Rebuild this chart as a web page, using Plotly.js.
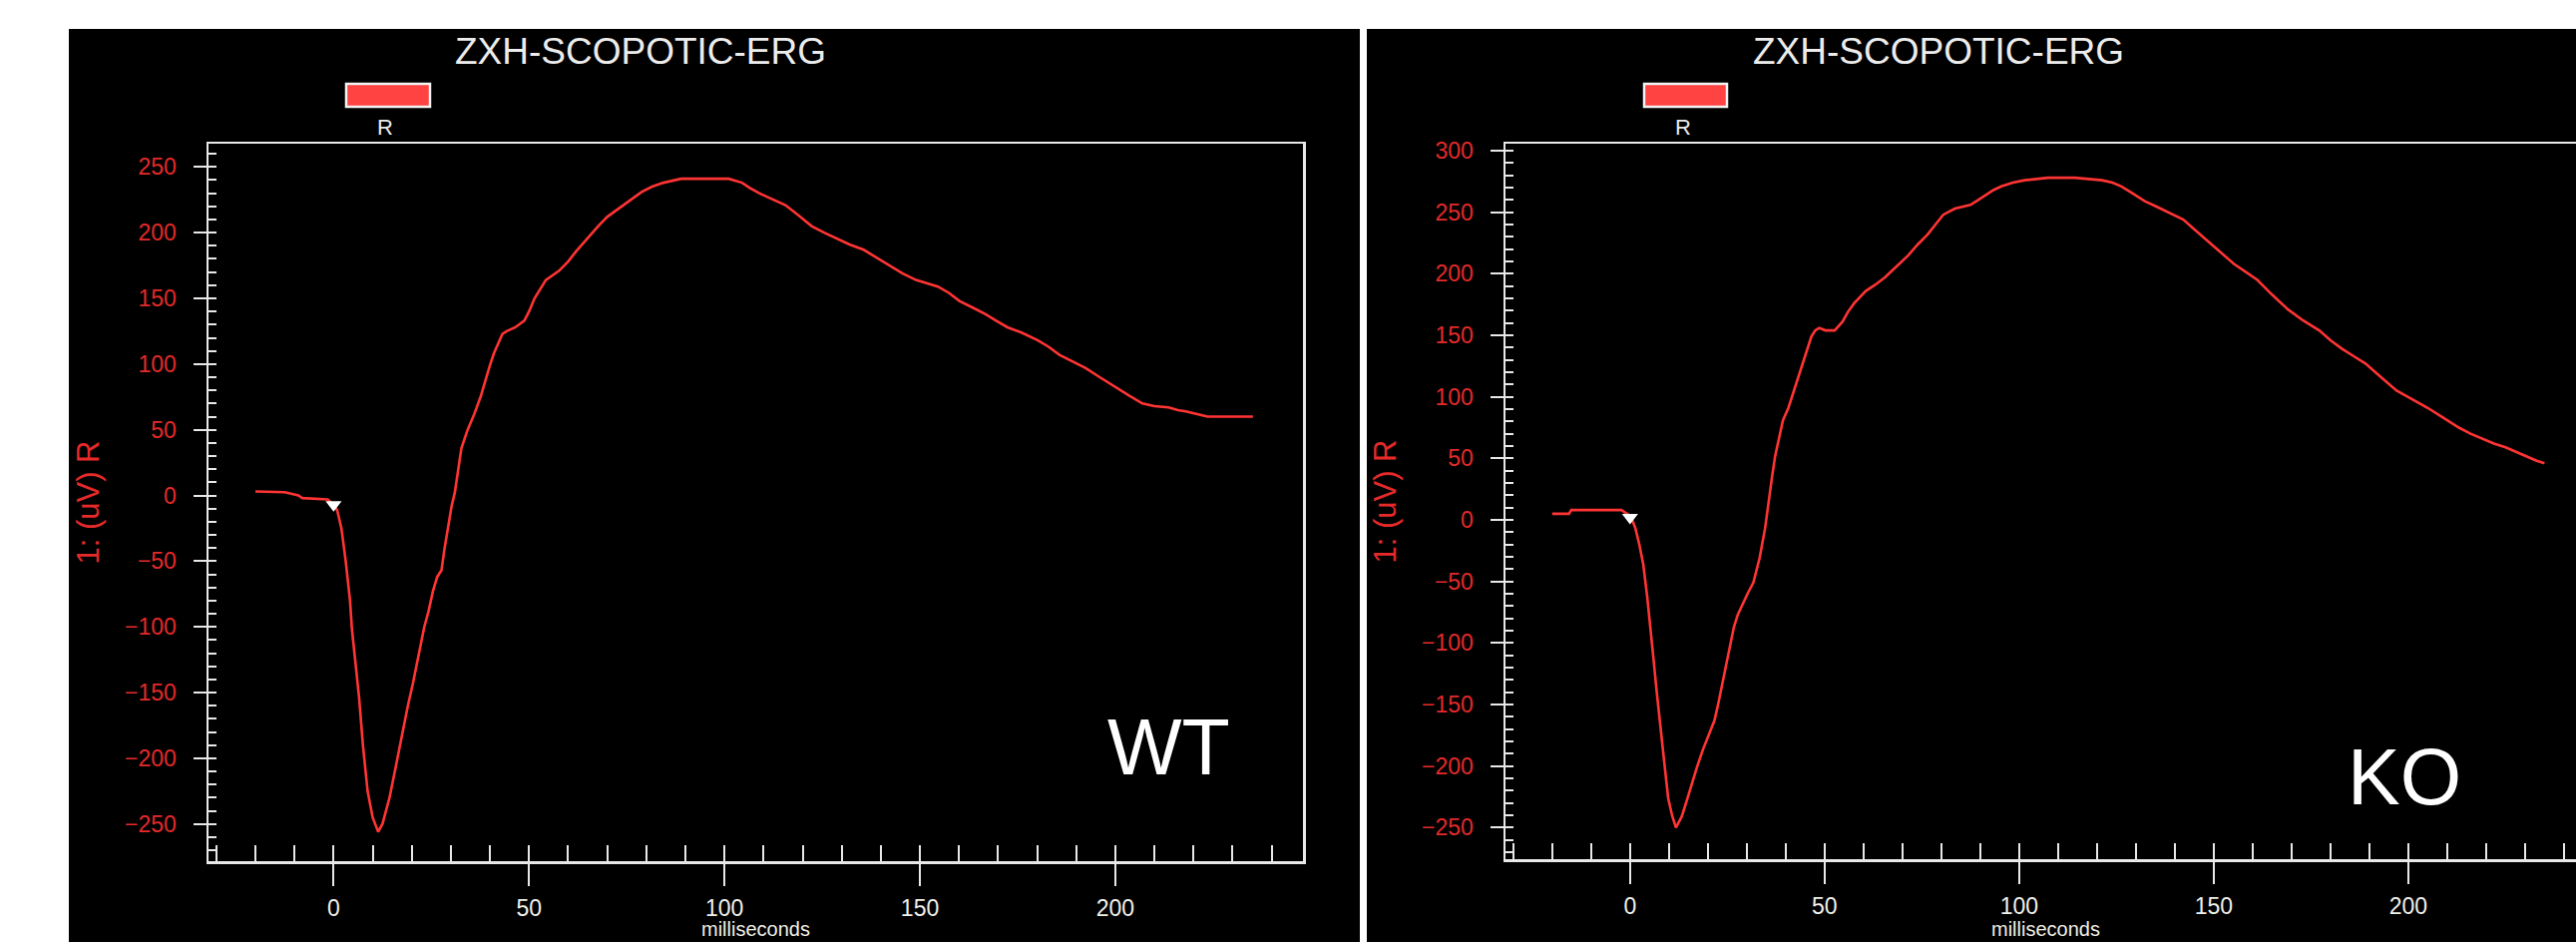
<!DOCTYPE html>
<html>
<head>
<meta charset="utf-8">
<script src="https://cdn.plot.ly/plotly-3.0.1.min.js"></script>
<style>
html,body{margin:0;padding:0;background:#ffffff;}
#chart{width:2582px;height:944px;}
</style>
</head>
<body>
<div id="chart"></div>
<script>
// ---------------- data ----------------
const wtTime = [-20,-12.5,-9,-8,-1.5,0,0.9,2,3.1,4.2,4.7,5.5,6.5,7.5,8.7,10,11.4,12.5,14.3,16,17.6,19,20.3,21.8,23.2,24.3,25.4,26.5,27.6,28.4,29.2,30.2,31,31.8,32.7,34.3,36,37.6,38.8,39.9,41,42.1,43.2,44.3,46.5,48.8,50,51.4,53,54.3,57.7,60,62.1,65,67.7,70,73.3,76,78.8,81.5,84.4,88.9,95,101.1,104.5,106.5,108.9,112,115.6,119,122.3,125.5,129,132,135.6,139,142.3,145.5,149,152,154.6,157.5,160.1,163.5,166.8,169.5,172.4,176,180.2,183,185.7,189,192.4,196,200.2,203.5,206.9,210,213.6,216,218,221,223.6,230,235.2];
const wtAmp  = [3,2.5,0,-2,-3,-7,-11,-25,-50,-80,-102,-125,-153,-190,-225,-245,-256,-250,-230,-205,-180,-160,-143,-120,-100,-88,-73,-62,-57,-40,-25,-8,2,18,36,50,62,75,88,98,108,116,123,125,128,133,140,150,158,164,171,178,186,196,205,212,219,225,231,235,238,241,241,241,238,234,230,226,221,213,205,200,195,191,187,181,175,169,164,161,159,154,148,143,138,133,128,124,118,113,107,102,97,90,82,76,70,68,67,65,64,62,60,60,60];

const koTime = [-20,-15.7,-15.1,-2.2,0.2,1.4,2.4,3.4,4.4,5.4,6.1,6.8,7.8,8.8,9.8,10.8,11.8,13.3,14.5,15.7,17.2,18.7,20.2,21.7,22.7,23.7,24.5,25.3,26.7,27.7,28.7,30.2,31.7,32.5,33.3,34.7,35.7,36.5,37.3,38.3,39.3,40.7,41.6,42.6,43.6,44.6,45.6,46.6,47.6,48.6,50.2,52.6,54.6,56,57.6,59,60.6,63,65.5,68.5,71.5,74,76.5,78.5,80.5,83.5,87.5,89.5,91.4,93.4,95.4,98.4,101.4,107.4,114.3,118,121.3,124,126.3,129.3,132.3,135,138.2,140,142.2,144.7,147.2,151,155.2,158,161.2,165,169.1,173,177.1,180,183,186,189,193,197,201,205,209,213,216,219,222,225,228,231,233,235];
const koAmp  = [5,5,8,8,3,-7,-20,-36,-62,-90,-115,-138,-170,-197,-226,-240,-250,-241,-229,-216,-201,-187,-175,-163,-149,-134,-121,-109,-87,-77,-70,-60,-51,-42,-31,-7,18,35,52,68,81,91,100,110,120,130,140,149,154,156,154,154,161,169,176,181,186,191,197,206,215,224,232,240,248,253,256,260,264,268,271,274,276,278,278,277,276,274,271,265,259,255,250,247,244,237,230,219,208,202,195,183,171,162,154,146,139,133,127,116,105,98,91,83,75,70,66,62,59,55,51,48,46];

// stimulus (flash) markers
const wtFlashTime = [0];
const wtFlashAmp  = [-7];
const koFlashTime = [0];
const koFlashAmp  = [2];

// texts
const chartTitle  = 'ZXH-SCOPOTIC-ERG';
const seriesName  = 'R';
const xTitle      = 'milliseconds';
const yTitle      = '1: (uV) R';
const panelLabels = ['WT', 'KO'];

// ---------------- layout helpers ----------------
const W = 2582, H = 944;
const fx = v => v / W;
const fy = v => 1 - v / H;

const FONT = 'Liberation Sans, Arial, sans-serif';
const RED_TEXT = '#e42a2a';
const LINE_RED = '#ff3434';
const AXIS_WHITE = '#e8e8e8';

function xAxis(domain, range, anchor) {
  return {
    domain: domain, range: range, anchor: anchor,
    showgrid: false, zeroline: false,
    showline: true, linecolor: AXIS_WHITE, linewidth: 2.5, mirror: true,
    ticks: 'outside', ticklen: 22, tickwidth: 2, tickcolor: AXIS_WHITE,
    tickmode: 'linear', tick0: 0, dtick: 50,
    minor: {ticks: 'inside', ticklen: 16, tickwidth: 2, tickcolor: AXIS_WHITE, tickmode: 'linear', tick0: 0, dtick: 10, showgrid: false},
    tickfont: {family: FONT, size: 23, color: '#f0f0ea'},
    ticklabelstandoff: 3,
    fixedrange: true
  };
}
function yAxis(domain, range, anchor, mirror) {
  return {
    domain: domain, range: range, anchor: anchor,
    showgrid: false, zeroline: false,
    showline: true, linecolor: AXIS_WHITE, linewidth: 2.5, mirror: mirror,
    ticks: 'outside', ticklen: 13, tickwidth: 2, tickcolor: AXIS_WHITE,
    tickmode: 'linear', tick0: 0, dtick: 50,
    minor: {ticks: 'inside', ticklen: 8, tickwidth: 2, tickcolor: AXIS_WHITE, tickmode: 'linear', tick0: 0, dtick: 10, showgrid: false},
    tickfont: {family: FONT, size: 23, color: RED_TEXT},
    ticklabelstandoff: 12,
    title: {text: yTitle, font: {family: FONT, size: 31, color: RED_TEXT}, standoff: 16},
    fixedrange: true
  };
}

const traces = [
  {x: wtTime, y: wtAmp, xaxis: 'x', yaxis: 'y', type: 'scatter', mode: 'lines', name: seriesName,
   line: {color: LINE_RED, width: 2.6}, showlegend: false, hoverinfo: 'skip'},
  {x: wtFlashTime, y: wtFlashAmp, xaxis: 'x', yaxis: 'y', type: 'scatter', mode: 'markers',
   marker: {symbol: 'triangle-down', size: 14, color: '#ffffff'}, showlegend: false, hoverinfo: 'skip'},
  {x: koTime, y: koAmp, xaxis: 'x2', yaxis: 'y2', type: 'scatter', mode: 'lines', name: seriesName,
   line: {color: LINE_RED, width: 2.6}, showlegend: false, hoverinfo: 'skip'},
  {x: koFlashTime, y: koFlashAmp, xaxis: 'x2', yaxis: 'y2', type: 'scatter', mode: 'markers',
   marker: {symbol: 'triangle-down', size: 14, color: '#ffffff'}, showlegend: false, hoverinfo: 'skip'}
];

// panel geometry in pixels
const leftPlot  = {x0: 209,  x1: 1306, y0: 144, y1: 863};
const rightPlot = {x0: 1509, x1: 2582, y0: 144, y1: 861};

const layout = {
  width: W, height: H,
  margin: {l: 0, r: 0, t: 0, b: 0, pad: 0},
  paper_bgcolor: '#ffffff',
  plot_bgcolor: '#000000',
  showlegend: false,
  font: {family: FONT},
  title: {
    text: chartTitle, x: fx(642), xanchor: 'center', y: fy(51), yanchor: 'middle',
    font: {family: FONT, size: 37, color: '#ececec'}
  },
  xaxis:  xAxis([fx(leftPlot.x0), fx(leftPlot.x1)], [-32, 248], 'y'),
  yaxis:  yAxis([fy(leftPlot.y1), fy(leftPlot.y0)], [-278.3, 267.7], 'x', true),
  xaxis2: xAxis([fx(rightPlot.x0), 1], [-32, 243.1], 'y2'),
  yaxis2: yAxis([fy(rightPlot.y1), fy(rightPlot.y0)], [-275.7, 305.7], 'x2', false),
  shapes: [
    // black screenshot backgrounds
    {type: 'rect', xref: 'paper', yref: 'paper', x0: fx(69), x1: fx(1363), y0: -0.01, y1: fy(29),
     fillcolor: '#000000', line: {width: 0}, layer: 'below'},
    {type: 'rect', xref: 'paper', yref: 'paper', x0: fx(1370), x1: 1.01, y0: -0.01, y1: fy(29),
     fillcolor: '#000000', line: {width: 0}, layer: 'below'},
    // legend swatches
    {type: 'rect', xref: 'paper', yref: 'paper', x0: fx(347), x1: fx(431), y0: fy(107), y1: fy(84),
     fillcolor: '#ff4242', line: {color: '#f4f4f4', width: 2.5}},
    {type: 'rect', xref: 'paper', yref: 'paper', x0: fx(1648), x1: fx(1731), y0: fy(107), y1: fy(84),
     fillcolor: '#ff4242', line: {color: '#f4f4f4', width: 2.5}}
  ],
  annotations: [
    {text: chartTitle, xref: 'paper', yref: 'paper', x: fx(1943), y: fy(51), xanchor: 'center', yanchor: 'middle',
     showarrow: false, font: {family: FONT, size: 37, color: '#ececec'}},
    {text: seriesName, xref: 'paper', yref: 'paper', x: fx(386), y: fy(127), xanchor: 'center', yanchor: 'middle',
     showarrow: false, font: {family: FONT, size: 22, color: '#eaeaea'}},
    {text: seriesName, xref: 'paper', yref: 'paper', x: fx(1687), y: fy(127), xanchor: 'center', yanchor: 'middle',
     showarrow: false, font: {family: FONT, size: 22, color: '#eaeaea'}},
    // x-axis titles along the bottom edge
    {text: xTitle, xref: 'paper', yref: 'paper', x: fx(757), y: 0, xanchor: 'center', yanchor: 'bottom',
     showarrow: false, font: {family: FONT, size: 20, color: '#efefe6'}},
    {text: xTitle, xref: 'paper', yref: 'paper', x: fx(2050), y: 0, xanchor: 'center', yanchor: 'bottom',
     showarrow: false, font: {family: FONT, size: 20, color: '#efefe6'}},
    {text: panelLabels[0], xref: 'paper', yref: 'paper', x: fx(1171), y: fy(748), xanchor: 'center', yanchor: 'middle',
     showarrow: false, font: {family: FONT, size: 79, color: '#ffffff'}},
    {text: panelLabels[1], xref: 'paper', yref: 'paper', x: fx(2410), y: fy(778), xanchor: 'center', yanchor: 'middle',
     showarrow: false, font: {family: FONT, size: 79, color: '#ffffff'}}
  ]
};

Plotly.newPlot('chart', traces, layout, {staticPlot: true, displayModeBar: false});
</script>
</body>
</html>
